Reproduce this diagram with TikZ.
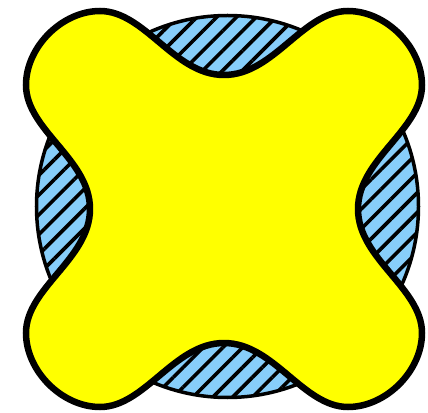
\documentclass[tikz,border=0pt]{standalone}
\usetikzlibrary{patterns.meta}
\definecolor{skyfill}{RGB}{135,206,250}
\definecolor{lobeyellow}{RGB}{255,255,0}
\tikzset{
  disc/.style={draw=black,line width=3.5pt},
  hatch/.style={pattern={Lines[angle=45,distance=14pt,line width=3.6pt]},pattern color=black},
  blob/.style={draw=black,fill=lobeyellow,line width=6.5pt,line join=round}
}
\begin{document}
\begin{tikzpicture}[x=1pt,y=1pt]
\useasboundingbox (-224,-203) rectangle (204,209);
\fill[skyfill] (3.5,2.5) circle (191);
\fill[hatch] (3.5,2.5) circle (191);
\draw[disc] (3.5,2.5) circle (191);
\draw[blob] (0,134) .. controls (50,134) and (79,198) .. (124,198)
  .. controls (162,198) and (198,162) .. (198,124)
  .. controls (198,79) and (134,50) .. (134,0)
  .. controls (134,-50) and (198,-79) .. (198,-124)
  .. controls (198,-162) and (162,-198) .. (124,-198)
  .. controls (79,-198) and (50,-134) .. (0,-134)
  .. controls (-50,-134) and (-79,-198) .. (-124,-198)
  .. controls (-162,-198) and (-198,-162) .. (-198,-124)
  .. controls (-198,-79) and (-134,-50) .. (-134,0)
  .. controls (-134,50) and (-198,79) .. (-198,124)
  .. controls (-198,162) and (-162,198) .. (-124,198)
  .. controls (-79,198) and (-50,134) .. cycle;
\end{tikzpicture}
\end{document}
